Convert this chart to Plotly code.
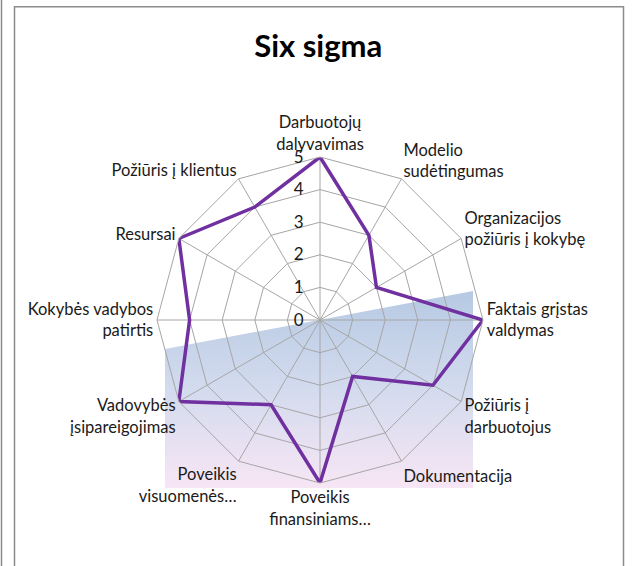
import plotly.graph_objects as go

# axis categories (clockwise from top) and scores
categories = [
    "Darbuotojų<br>dalyvavimas",
    "Modelio<br>sudėtingumas",
    "Organizacijos<br>požiūris į kokybę",
    "Faktais grįstas<br>valdymas",
    "Požiūris į<br>darbuotojus",
    "Dokumentacija",
    "Poveikis<br>finansiniams…",
    "Poveikis<br>visuomenės…",
    "Vadovybės<br>įsipareigojimas",
    "Kokybės vadybos<br>patirtis",
    "Resursai",
    "Požiūris į klientus",
]
scores = [5, 3, 2, 5, 4, 2, 5, 3, 5, 4, 5, 4]
radial_ticks = [0, 1, 2, 3, 4, 5]

W, H = 634, 566
font = "Lato, 'Open Sans', sans-serif"

fig = go.Figure()

# gradient panel behind the radar (pixel coords, y measured from bottom)
px_x = [165, 473, 473, 165, 165]
px_y = [H - 349, H - 291, H - 488, H - 488, H - 349]
fig.add_trace(go.Scatter(
    x=px_x, y=px_y, mode="lines", fill="toself", line=dict(width=0),
    fillgradient=dict(type="vertical",
                      colorscale=[[0, "#f7e6f5"], [0.5, "#d3dbee"], [1, "#b6c9e3"]]),
    hoverinfo="skip", showlegend=False, xaxis="x", yaxis="y",
))

closed_cats = categories + categories[:1]
closed_vals = scores + scores[:1]
fig.add_trace(go.Scatterpolar(
    r=closed_vals, theta=closed_cats, mode="lines",
    line=dict(color="#7030a0", width=3.5),
    showlegend=False,
))

cx, cy, rad = 320, 320, 163
fig.update_layout(
    width=W, height=H,
    margin=dict(l=0, r=0, t=0, b=0),
    paper_bgcolor="white",
    plot_bgcolor="rgba(0,0,0,0)",
    font=dict(family=font, size=16, color="#1a1a1a"),
    title=dict(text="<b>Six sigma</b>", x=0.502, xanchor="center",
               y=1 - 46 / H, yanchor="middle",
               font=dict(family=font, size=31, color="black")),
    xaxis=dict(range=[0, W], domain=[0, 1], visible=False, fixedrange=True),
    yaxis=dict(range=[0, H], domain=[0, 1], visible=False, fixedrange=True),
    polar=dict(
        domain=dict(x=[(cx - rad) / W, (cx + rad) / W],
                    y=[(H - cy - rad) / H, (H - cy + rad) / H]),
        bgcolor="rgba(0,0,0,0)",
        gridshape="linear",
        radialaxis=dict(
            range=[0, 5], tickvals=radial_ticks, angle=90,
            side="counterclockwise", tickangle=90,
            showline=False, ticks="outside", ticklen=10,
            tickcolor="rgba(0,0,0,0)", gridcolor="#a6a6a6", gridwidth=1,
            tickfont=dict(family=font, size=17, color="#1a1a1a"),
        ),
        angularaxis=dict(
            rotation=90, direction="clockwise",
            gridcolor="#a6a6a6", gridwidth=1,
            linecolor="#a6a6a6", linewidth=1, ticks="",
            tickfont=dict(family=font, size=16.5, color="#1a1a1a"),
        ),
    ),
    shapes=[
        dict(type="rect", xref="paper", yref="paper",
             x0=14.5 / W, x1=623.5 / W, y0=-0.05, y1=1 - 6.7 / H,
             line=dict(color="#8c8c8c", width=1.5)),
        dict(type="line", xref="paper", yref="paper",
             x0=1.5 / W, x1=1.5 / W, y0=0, y1=1,
             line=dict(color="#8c8c8c", width=1.5)),
    ],
)

fig.write_html("out.html", config={"displayModeBar": False},
               post_script="document.body.style.margin='0';")
